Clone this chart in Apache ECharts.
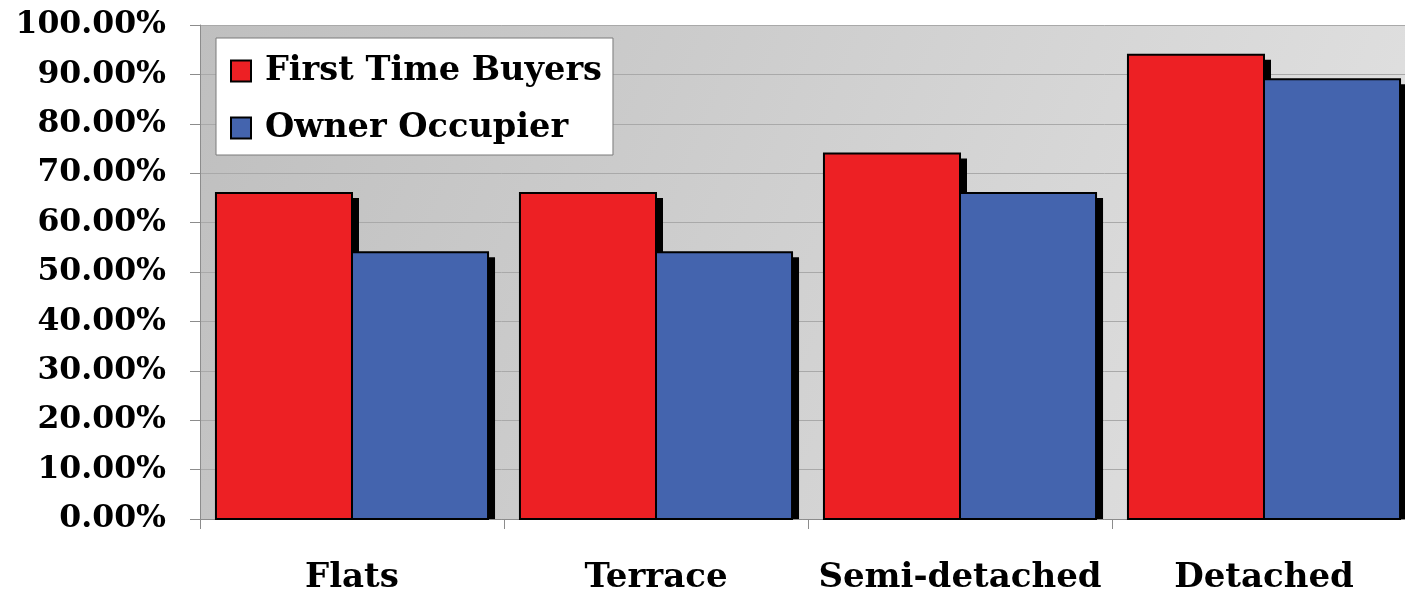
<!DOCTYPE html>
<html>
<head>
<meta charset="utf-8">
<script src="https://cdn.jsdelivr.net/npm/echarts@6/dist/echarts.min.js"></script>
<style>
  html, body { margin: 0; padding: 0; background: #ffffff; }
  #chart { width: 1405px; height: 591px; }
</style>
</head>
<body>
<div id="chart"></div>
<script>
// Share of buyers by property type (percent)
const categories = ['Flats', 'Terrace', 'Semi-detached', 'Detached'];
const firstTimeBuyers = [66, 66, 74, 94];
const ownerOccupier = [54, 54, 66, 89];
const seriesNames = ['First Time Buyers', 'Owner Occupier'];
const seriesColors = ['#ed2024', '#4464ae'];

const fontFamily = '"DejaVu Serif", Georgia, serif';
const categoryGapRatio = 0.105;   // empty share of each category band
const dropX = 7, dropY = 5;       // hard black drop shadow behind each bar

const chart = echarts.init(document.getElementById('chart'), null, { renderer: 'canvas' });

// Clustered bar with a solid offset shadow that stops at the baseline.
function clusteredBar(slot, count, color) {
  return function (params, api) {
    const cat = api.value(0);
    const val = api.value(1);
    const base = api.coord([cat, 0]);
    const top = api.coord([cat, val]);
    const band = api.size([1, 0])[0];
    const barW = band * (1 - categoryGapRatio) / count;
    const x = base[0] - (barW * count) / 2 + slot * barW;
    const h = base[1] - top[1];
    return {
      type: 'group',
      children: [
        {
          type: 'rect',
          shape: { x: x + dropX, y: top[1] + dropY, width: barW, height: Math.max(0, h - dropY) },
          style: { fill: '#000000' }
        },
        {
          type: 'rect',
          shape: { x: x, y: top[1], width: barW, height: h },
          style: { fill: color, stroke: '#000000', lineWidth: 2 }
        }
      ]
    };
  };
}

const seriesValues = [firstTimeBuyers, ownerOccupier];

chart.setOption({
  animation: false,
  backgroundColor: '#ffffff',
  grid: {
    left: 200,
    top: 25,
    width: 1216,
    height: 494,
    outerBoundsMode: 'none',
    containLabel: false,
    show: true,
    borderWidth: 0,
    backgroundColor: new echarts.graphic.LinearGradient(0, 0, 1, 1, [
      { offset: 0, color: '#bfbfbf' },
      { offset: 1, color: '#e3e3e3' }
    ])
  },
  legend: {
    orient: 'vertical',
    left: 216,
    top: 38,
    data: seriesNames,
    backgroundColor: '#ffffff',
    borderColor: '#7a7a7a',
    borderWidth: 1,
    padding: [15, 11, 9, 14],
    itemWidth: 20,
    itemHeight: 21,
    itemGap: 21,
    icon: 'rect',
    itemStyle: {
      borderColor: '#000000',
      borderWidth: 2
    },
    textStyle: {
      fontFamily: fontFamily,
      fontWeight: 'bold',
      fontSize: 33.6,
      lineHeight: 36,
      color: '#000000',
      padding: [0, 0, 0, 9]
    }
  },
  xAxis: {
    type: 'category',
    data: categories,
    axisLine: { show: true, lineStyle: { color: '#8c8c8c', width: 1 } },
    axisTick: { show: true, length: 10, lineStyle: { color: '#8c8c8c' } },
    axisLabel: {
      interval: 0,
      margin: 42,
      fontFamily: fontFamily,
      fontWeight: 'bold',
      fontSize: 34,
      color: '#000000'
    },
    splitLine: { show: false }
  },
  yAxis: {
    type: 'value',
    min: 0,
    max: 100,
    interval: 10,
    axisLine: { show: true, lineStyle: { color: '#8c8c8c', width: 1 } },
    axisTick: { show: true, length: 10, lineStyle: { color: '#8c8c8c' } },
    axisLabel: {
      margin: 34,
      fontFamily: fontFamily,
      fontWeight: 'bold',
      fontSize: 31.5,
      color: '#000000',
      formatter: (v) => v.toFixed(2) + '%'
    },
    splitLine: { show: true, lineStyle: { color: '#a9a9a9', width: 1 } }
  },
  series: seriesNames.map((name, i) => ({
    name: name,
    type: 'custom',
    renderItem: clusteredBar(i, seriesNames.length, seriesColors[i]),
    encode: { x: 0, y: 1 },
    itemStyle: { color: seriesColors[i] },
    data: seriesValues[i].map((v, c) => [c, v])
  }))
});
</script>
</body>
</html>
